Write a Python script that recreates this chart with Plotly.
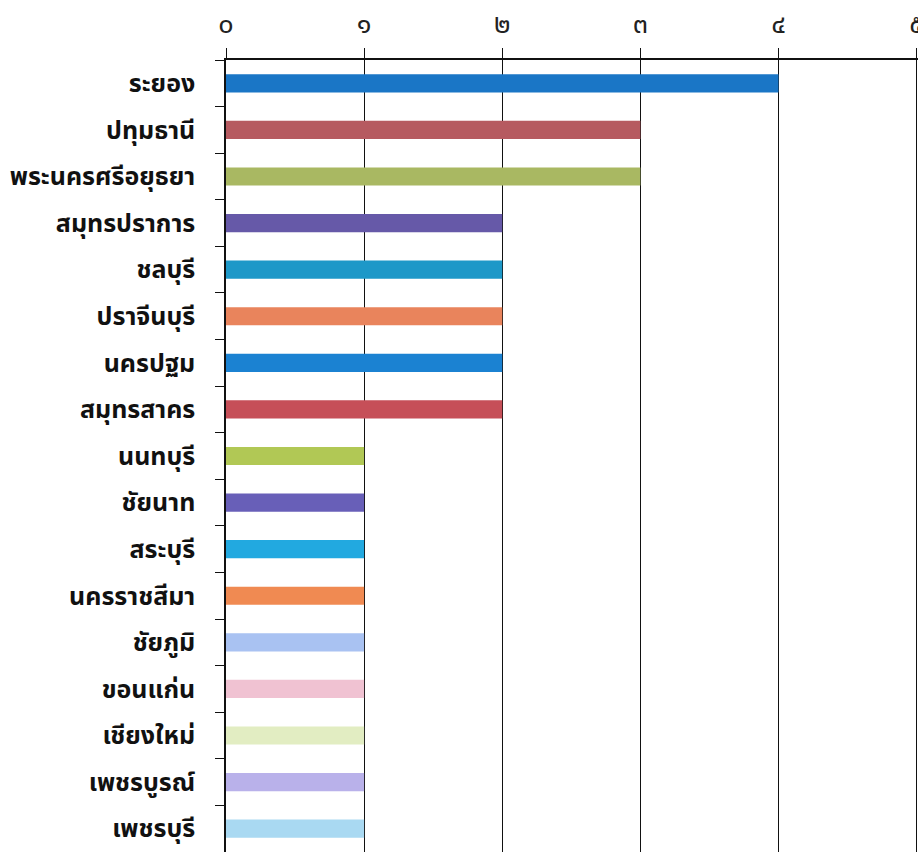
import plotly.graph_objects as go

provinces = ["ระยอง", "ปทุมธานี", "พระนครศรีอยุธยา", "สมุทรปราการ", "ชลบุรี",
             "ปราจีนบุรี", "นครปฐม", "สมุทรสาคร", "นนทบุรี", "ชัยนาท", "สระบุรี",
             "นครราชสีมา", "ชัยภูมิ", "ขอนแก่น", "เชียงใหม่", "เพชรบูรณ์", "เพชรบุรี"]
counts = [4, 3, 3, 2, 2, 2, 2, 2, 1, 1, 1, 1, 1, 1, 1, 1, 1]
bar_colors = ["#1a76c6", "#b65a60", "#a9b862", "#6659a8", "#1d98c8", "#e9845c",
              "#1b82d2", "#c64f58", "#b1c855", "#685fb8", "#22a9e0", "#f08a52",
              "#a9c2f2", "#f0c2d2", "#e2edc2", "#b9b1ea", "#a9d9f2"]
tick_vals = [0, 1, 2, 3, 4, 5]
tick_text = ["๐", "๑", "๒", "๓", "๔", "๕"]

fig = go.Figure(go.Bar(
    x=counts, y=provinces, orientation="h",
    marker=dict(color=bar_colors, line=dict(width=0)),
    width=0.39,
))

fig.update_layout(
    width=918, height=852,
    margin=dict(l=226, r=0, t=60, b=0),
    paper_bgcolor="white", plot_bgcolor="white",
    showlegend=False,
    font=dict(family="Noto Sans Thai, Tahoma, DejaVu Sans, sans-serif", color="#111"),
)
fig.update_xaxes(
    side="top", range=[0, 5.01], tickvals=tick_vals, ticktext=tick_text,
    showgrid=True, gridcolor="#111", gridwidth=1,
    showline=True, linecolor="#111", linewidth=1.5,
    ticks="outside", ticklen=10, tickcolor="#111",
    tickfont=dict(size=27, color="#222"), zeroline=False, automargin=False,
    ticklabelstandoff=4, ticklabeloverflow="allow",
)
fig.update_yaxes(
    autorange="reversed", categoryorder="array", categoryarray=provinces,
    showline=True, linecolor="#111", linewidth=1.5,
    ticks="outside", ticklen=9, tickcolor="#111", tickson="boundaries",
    tickfont=dict(size=25, color="#111", weight="bold"),
    ticklabelstandoff=24, showgrid=False, automargin=False,
)

fig.write_html(
    "out.html",
    config={"displayModeBar": False},
    post_script="document.body.style.margin='0';document.body.style.overflow='hidden';",
)
